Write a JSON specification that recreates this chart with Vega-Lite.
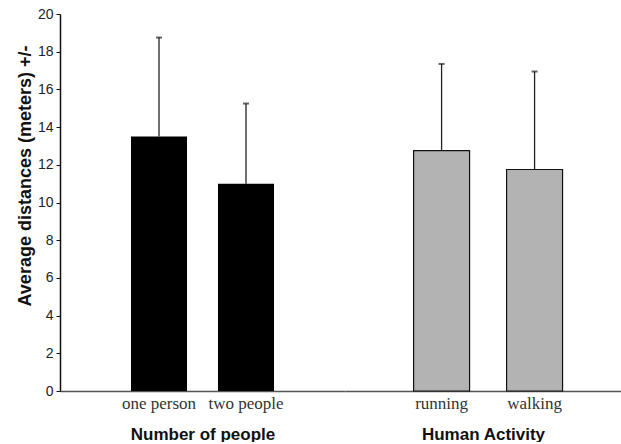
{
  "$schema": "https://vega.github.io/schema/vega-lite/v6.json",
  "padding": {"left": 16, "top": 7, "right": 0, "bottom": 0},
  "background": "white",
  "data": {"values": [
    {"group": "Number of people", "category": "one person", "mean": 13.5, "upper": 18.75},
    {"group": "Number of people", "category": "two people", "mean": 11.0, "upper": 15.25},
    {"group": "Human Activity", "category": "running", "mean": 12.75, "upper": 17.35},
    {"group": "Human Activity", "category": "walking", "mean": 11.75, "upper": 16.95}
  ]},
  "spacing": 0,
  "config": {
    "view": {"stroke": null},
    "font": "Liberation Sans",
    "axisY": {"values": [0, 2, 4, 6, 8, 10, 12, 14, 16, 18, 20], "labelOverlap": false, "grid": false, "domainColor": "#111", "domainWidth": 1.5, "tickColor": "#111", "tickSize": 4, "labelFont": "Liberation Sans", "labelFontSize": 14, "labelColor": "#222", "labelPadding": 3, "titleFont": "Liberation Sans", "titleFontSize": 18, "titleFontWeight": "bold", "titleColor": "#111", "titleX": -30, "titleY": 161.5, "titleBaseline": "alphabetic", "titleAlign": "center", "titleAngle": -90},
    "axisX": {"labelFont": "Liberation Serif", "labelFontSize": 17, "labelColor": "#333", "labelAngle": 0, "ticks": false, "tickSize": 0, "domainColor": "#555", "domainWidth": 1.5, "labelPadding": 4, "titleFont": "Liberation Sans", "titleFontSize": 17, "titleFontWeight": "bold", "titleColor": "#111", "titlePadding": 15}
  },
  "hconcat": [
    {
      "width": 285,
      "height": 377,
      "transform": [{"filter": "datum.group === 'Number of people'"}],
      "encoding": {
        "x": {
          "field": "category", "type": "nominal", "sort": null, "title": "Number of people",
          "scale": {"paddingInner": 0.356, "paddingOuter": 0.816}
        }
      },
      "layer": [
        {
          "mark": {"type": "bar", "color": "#000000"},
          "encoding": {
            "y": {
              "field": "mean", "type": "quantitative", "title": "Average distances (meters) +/-",
              "scale": {"domain": [0, 20], "nice": false},
              "axis": {"labelFontSize": 14, "labelOverlap": false}
            }
          }
        },
        {
          "mark": {"type": "rule", "color": "#222", "strokeWidth": 1.3},
          "encoding": {
            "y": {"field": "mean", "type": "quantitative", "title": "Average distances (meters) +/-", "axis": {"labelFontSize": 14, "labelOverlap": false}},
            "y2": {"field": "upper"}
          }
        },
        {
          "mark": {"type": "tick", "color": "#222", "size": 6, "thickness": 2},
          "encoding": {
            "y": {"field": "upper", "type": "quantitative", "title": "Average distances (meters) +/-", "axis": {"labelFontSize": 14, "labelOverlap": false}}
          }
        }
      ]
    },
    {
      "width": 276,
      "height": 377,
      "transform": [{"filter": "datum.group === 'Human Activity'"}],
      "encoding": {
        "x": {
          "field": "category", "type": "nominal", "sort": null, "title": "Human Activity",
          "scale": {"paddingInner": 0.398, "paddingOuter": 0.683, "align": 0.54}
        }
      },
      "layer": [
        {
          "mark": {"type": "bar", "color": "#b3b3b3", "stroke": "#111", "strokeWidth": 1.2},
          "encoding": {
            "y": {"field": "mean", "type": "quantitative", "scale": {"domain": [0, 20], "nice": false}, "axis": null}
          }
        },
        {
          "mark": {"type": "rule", "color": "#222", "strokeWidth": 1.3},
          "encoding": {
            "y": {"field": "mean", "type": "quantitative", "axis": null},
            "y2": {"field": "upper"}
          }
        },
        {
          "mark": {"type": "tick", "color": "#222", "size": 6, "thickness": 2},
          "encoding": {
            "y": {"field": "upper", "type": "quantitative", "axis": null}
          }
        }
      ]
    }
  ]
}
